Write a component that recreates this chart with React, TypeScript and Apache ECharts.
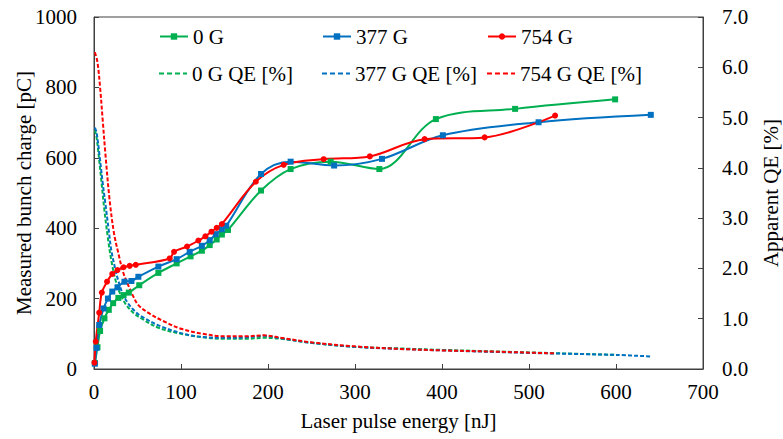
import React, { useEffect, useRef } from "react";
import * as echarts from "echarts";

const xTicks = [0, 100, 200, 300, 400, 500, 600, 700];

const g0X = [1, 4, 7, 12, 17, 22, 28, 34, 40, 52, 74, 95, 111, 124, 133, 141, 147, 154, 192, 226, 272, 328, 393, 484, 599];
const g0Y = [17, 62, 108, 144, 168, 187, 202, 210, 217, 238, 273, 300, 320, 336, 352, 368, 382, 395, 507, 568, 589, 568, 710, 739, 766];

const b377X = [1, 3, 6, 11, 16, 21, 27, 35, 43, 51, 74, 95, 110, 124, 133, 140, 147, 152, 192, 226, 276, 331, 401, 511, 640];
const b377Y = [15, 60, 125, 172, 200, 220, 232, 248, 250, 262, 291, 312, 333, 350, 366, 383, 397, 407, 554, 589, 578, 597, 664, 701, 722];

const r754X = [0.5, 2, 6, 9, 15, 21, 27, 34, 41, 48, 87, 92, 107, 120, 128, 135, 141, 147, 186, 218, 264, 317, 380, 449, 530];
const r754Y = [18, 78, 160, 217, 248, 270, 281, 289, 293, 296, 314, 333, 348, 365, 377, 390, 401, 412, 532, 580, 596, 604, 653, 658, 720];

const g0QeX = [1, 3, 6, 9, 12, 16, 20, 25, 30, 36, 45, 55, 74, 100, 125, 150, 175, 195, 215, 250, 300, 350, 400, 500, 600];
const g0QeY = [4.75, 4.6, 4.15, 3.65, 3.15, 2.6, 2.15, 1.75, 1.5, 1.3, 1.12, 1.0, 0.82, 0.7, 0.63, 0.6, 0.6, 0.62, 0.6, 0.52, 0.44, 0.41, 0.38, 0.33, 0.28];

const b377QeX = [1, 3, 7, 10, 13, 17, 20, 25, 28, 33, 39, 47, 55, 78, 108, 130, 150, 175, 195, 215, 250, 300, 350, 400, 500, 600, 640];
const b377QeY = [4.8, 4.7, 4.15, 3.7, 3.3, 2.75, 2.35, 1.95, 1.75, 1.5, 1.31, 1.15, 1.04, 0.84, 0.68, 0.63, 0.62, 0.63, 0.66, 0.61, 0.52, 0.44, 0.4, 0.37, 0.32, 0.28, 0.25];

const r754QeX = [1, 4, 7, 10, 13, 18, 23, 28, 33, 38, 45, 51, 64, 80, 100, 125, 150, 175, 195, 215, 250, 300, 350, 400, 450, 530];
const r754QeY = [6.3, 6.1, 5.6, 4.95, 4.3, 3.35, 2.7, 2.3, 1.95, 1.72, 1.45, 1.27, 1.1, 0.95, 0.8, 0.7, 0.65, 0.65, 0.67, 0.62, 0.53, 0.45, 0.4, 0.37, 0.35, 0.31];

const GREEN = "#00B050";
const BLUE = "#0070C0";
const RED = "#FF0000";
const FONT = "'Liberation Serif', 'Times New Roman', serif";
const AXIS_COLOR = "#404040";
const DASH_ICON = "path://M0,0h5v2h-5z M8,0h5v2h-5z M16,0h5v2h-5z M24,0h4v2h-4z";

const zip = (xs: number[], ys: number[]) => xs.map((x, i) => [x, ys[i]]);

export default function App() {
  const ref = useRef<HTMLDivElement>(null);
  useEffect(() => {
    if (!ref.current) return;
    const chart = echarts.init(ref.current, undefined, { renderer: "svg" });
    const txt = { fontFamily: FONT, fontSize: 21, color: "#000" };
    const solid = (name: string, xs: number[], ys: number[], color: string, symbol: string, size: number) => ({
      name,
      type: "line",
      yAxisIndex: 0,
      data: zip(xs, ys),
      smooth: 0.35,
      symbol,
      symbolSize: size,
      showSymbol: true,
      lineStyle: { color, width: 2 },
      itemStyle: { color },
      z: 3,
    });
    const dashed = (name: string, xs: number[], ys: number[], color: string) => ({
      name,
      type: "line",
      yAxisIndex: 1,
      data: zip(xs, ys),
      smooth: 0.35,
      symbol: "none",
      showSymbol: false,
      lineStyle: { color, width: 2, type: [4, 2] },
      itemStyle: { color },
      z: 2,
    });
    const legendItem = (name: string, left: number, top: number, dashedIcon: boolean) => ({
      data: dashedIcon ? [{ name, icon: DASH_ICON }] : [name],
      left,
      top,
      padding: 0,
      itemWidth: 28,
      itemHeight: dashedIcon ? 2 : 8,
      itemGap: 0,
      textStyle: txt,
    });
    chart.setOption({
      animation: false,
      backgroundColor: "#fff",
      textStyle: { fontFamily: FONT },
      grid: {
        left: 94,
        right: 80,
        top: 17,
        bottom: 70,
        containLabel: false,
        outerBoundsMode: "none",
        show: true,
        borderColor: AXIS_COLOR,
        borderWidth: 1,
      },
      legend: [
        legendItem("0 G", 159, 26, false),
        legendItem("377 G", 322, 26, false),
        legendItem("754 G", 487, 26, false),
        legendItem("0 G QE [%]", 159, 63, true),
        legendItem("377 G QE [%]", 322, 63, true),
        legendItem("754 G QE [%]", 487, 63, true),
      ],
      xAxis: {
        type: "value",
        min: xTicks[0],
        max: xTicks[xTicks.length - 1],
        interval: 100,
        name: "Laser pulse energy [nJ]",
        nameLocation: "middle",
        nameGap: 41,
        nameMoveOverlap: false,
        nameTextStyle: txt,
        axisLine: { show: true, lineStyle: { color: AXIS_COLOR } },
        axisTick: { show: true, inside: true, length: 5, lineStyle: { color: AXIS_COLOR } },
        axisLabel: { ...txt, margin: 12, formatter: (v: number) => String(v) },
        splitLine: { show: false },
      },
      yAxis: [
        {
          type: "value",
          min: 0,
          max: 1000,
          interval: 200,
          position: "left",
          name: "Measured bunch charge [pC]",
          nameLocation: "middle",
          nameGap: 60,
          nameMoveOverlap: false,
          nameTextStyle: txt,
          axisLine: { show: true, lineStyle: { color: AXIS_COLOR } },
          axisTick: { show: true, inside: true, length: 5, lineStyle: { color: AXIS_COLOR } },
          axisLabel: { ...txt, margin: 17, formatter: (v: number) => String(v) },
          splitLine: { show: false },
        },
        {
          type: "value",
          min: 0,
          max: 7,
          interval: 1,
          position: "right",
          name: "Apparent QE [%]",
          nameLocation: "middle",
          nameGap: 57,
          nameMoveOverlap: false,
          nameTextStyle: txt,
          axisLine: { show: true, lineStyle: { color: AXIS_COLOR } },
          axisTick: { show: true, inside: true, length: 5, lineStyle: { color: AXIS_COLOR } },
          axisLabel: { ...txt, margin: 19, formatter: (v: number) => v.toFixed(1) },
          splitLine: { show: false },
        },
      ],
      series: [
        solid("0 G", g0X, g0Y, GREEN, "rect", 6),
        solid("377 G", b377X, b377Y, BLUE, "rect", 6),
        solid("754 G", r754X, r754Y, RED, "circle", 6),
        dashed("0 G QE [%]", g0QeX, g0QeY, GREEN),
        dashed("377 G QE [%]", b377QeX, b377QeY, BLUE),
        dashed("754 G QE [%]", r754QeX, r754QeY, RED),
      ],
    });
    return () => chart.dispose();
  }, []);
  return (
    <div
      ref={ref}
      style={{ position: "fixed", left: 0, top: 0, width: 783, height: 439, background: "#fff" }}
    />
  );
}
